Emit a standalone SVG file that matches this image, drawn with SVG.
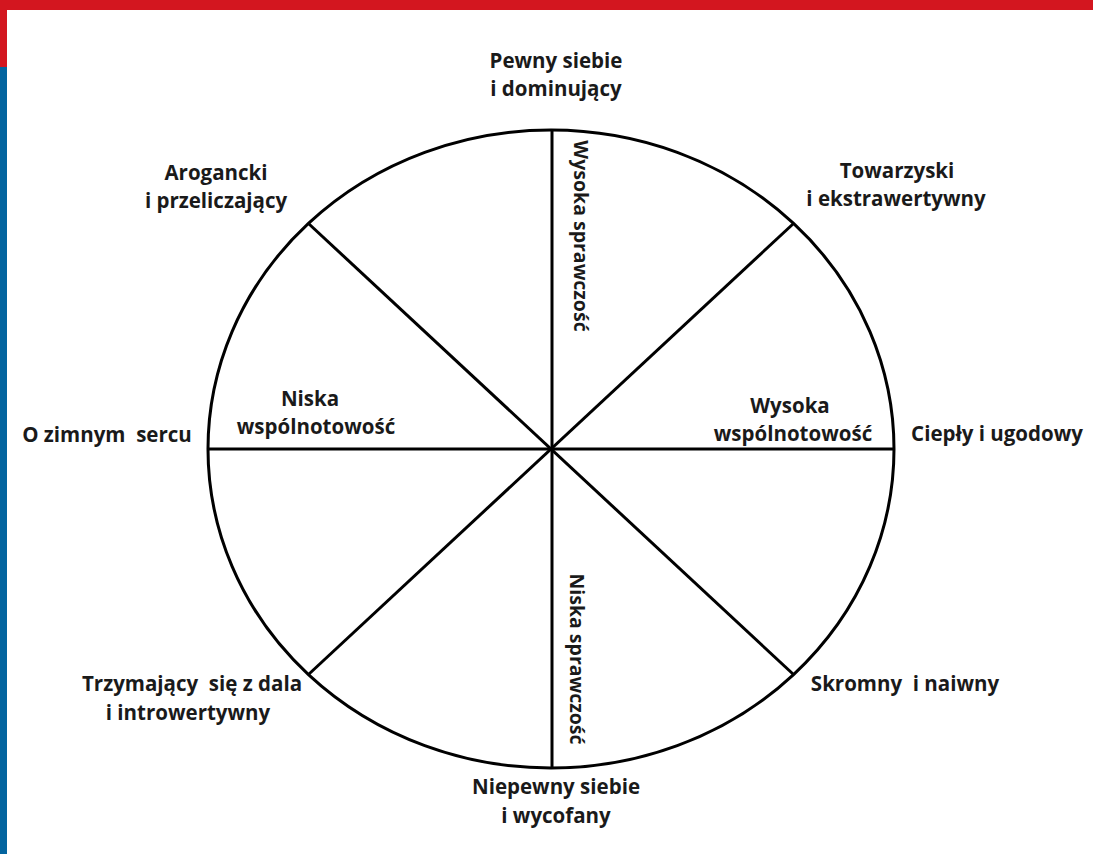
<svg xmlns="http://www.w3.org/2000/svg" width="1093" height="854" viewBox="0 0 1093 854">
<style>
.t{font-family:"Open Sans","Liberation Sans",sans-serif;font-weight:700;font-size:20.5px;fill:#1a1a1a;text-anchor:middle;white-space:pre}
.v{font-size:19.5px}
.ln{stroke:#000;stroke-width:3;fill:none}
</style>
<rect x="0" y="0" width="1093" height="854" fill="#fff"/>
<rect x="0" y="0" width="1093" height="10" fill="#D3161F"/>
<rect x="0" y="0" width="7" height="67" fill="#D3161F"/>
<rect x="0" y="67" width="7" height="787" fill="#03649F"/>
<g id="wheel">
<ellipse class="ln" cx="551" cy="449" rx="343" ry="319"/>
</g>
<g id="connectors">
<line class="ln" x1="552" y1="130" x2="552" y2="768"/>
<line class="ln" x1="208" y1="449" x2="894" y2="449"/>
<line class="ln" x1="309" y1="224" x2="793" y2="674"/>
<line class="ln" x1="793" y1="224" x2="309" y2="674"/>
</g>
<g id="n-top"><text class="t" x="556" y="68">Pewny siebie</text><text class="t" x="556" y="96">i dominujący</text></g>
<g id="n-topleft"><text class="t" x="216" y="180">Arogancki</text><text class="t" x="216" y="208">i przeliczający</text></g>
<g id="n-topright"><text class="t" x="897" y="178">Towarzyski</text><text class="t" x="896" y="206">i ekstrawertywny</text></g>
<g id="n-left"><text class="t" xml:space="preserve" x="107" y="442">O zimnym  sercu</text></g>
<g id="n-right"><text class="t" x="997" y="441">Ciepły i ugodowy</text></g>
<g id="n-lownw"><text class="t" x="310" y="406">Niska</text><text class="t" x="316" y="434">wspólnotowość</text></g>
<g id="n-highw"><text class="t" x="790" y="413">Wysoka</text><text class="t" x="793" y="441">wspólnotowość</text></g>
<g id="n-botleft"><text class="t" xml:space="preserve" x="192" y="691">Trzymający  się z dala</text><text class="t" x="188" y="720">i introwertywny</text></g>
<g id="n-botright"><text class="t" xml:space="preserve" x="905" y="691">Skromny  i naiwny</text></g>
<g id="n-bottom"><text class="t" x="556" y="794">Niepewny siebie</text><text class="t" x="556" y="823">i wycofany</text></g>
<g id="n-highs"><text class="t v" transform="translate(574,236) rotate(90)" x="0" y="0">Wysoka sprawczość</text></g>
<g id="n-lows"><text class="t v" transform="translate(570,659) rotate(90)" x="0" y="0">Niska sprawczość</text></g>
</svg>
